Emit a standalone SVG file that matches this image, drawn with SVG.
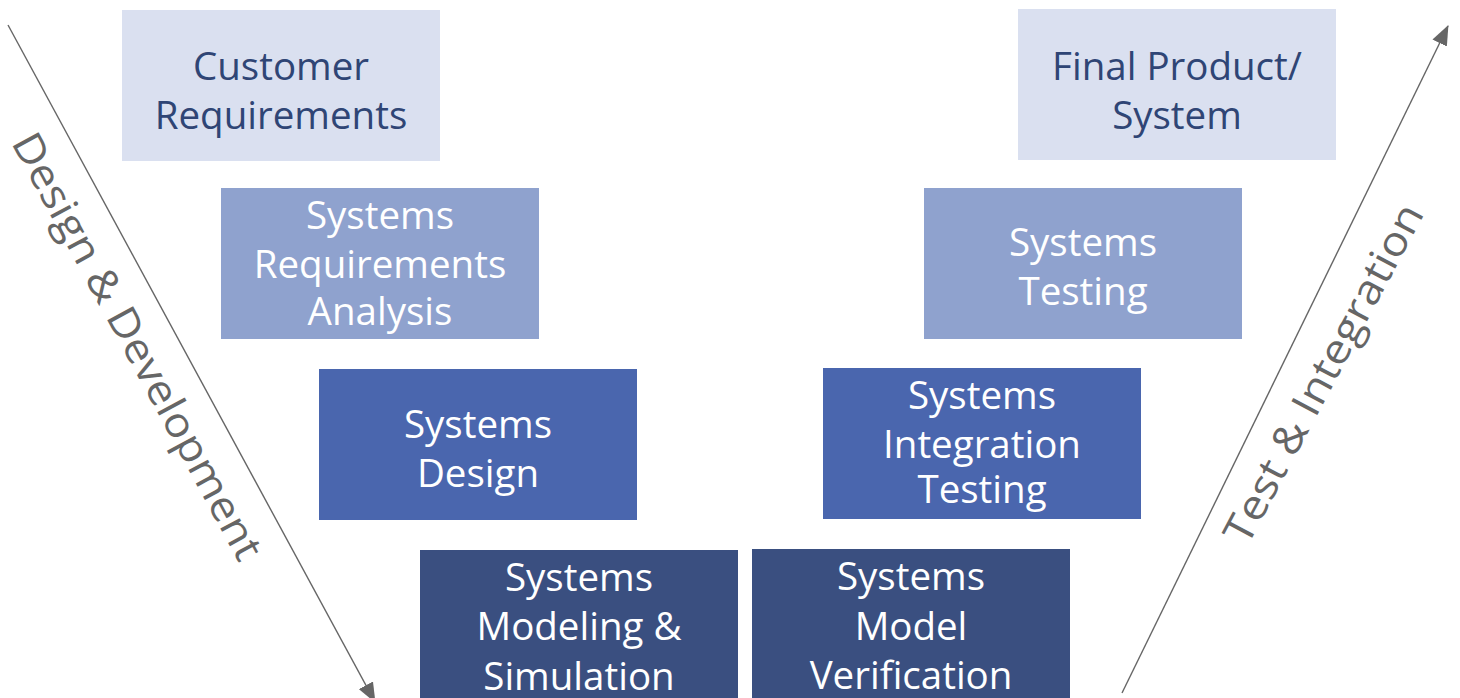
<svg xmlns="http://www.w3.org/2000/svg" width="1460" height="698" viewBox="0 0 1460 698">
<style>
.lbl{font-family:"Open Sans","Noto Sans","Liberation Sans",sans-serif;font-size:38.5px;text-anchor:middle}
.w{fill:#ffffff}
.d{fill:#2f4575}
.side{font-family:"Open Sans","Noto Sans","Liberation Sans",sans-serif;font-size:41px;fill:#666666;text-anchor:middle}
.c1{fill:#dae0f0}.c2{fill:#8fa2ce}.c3{fill:#4a66ae}.c4{fill:#3a4f80}
.arr{stroke:#666666;stroke-width:1.4;fill:none}
</style>
<defs>
<marker id="ah" viewBox="0 0 20 16" refX="19" refY="8" markerWidth="20" markerHeight="16" orient="auto" markerUnits="userSpaceOnUse">
<path d="M0,0 L20,8 L0,16 z" fill="#666666"/>
</marker>
</defs>
<rect width="1460" height="698" fill="#ffffff"/>
<g id="connectors">
<line class="arr" x1="8" y1="25" x2="375" y2="702" marker-end="url(#ah)"/>
<line class="arr" x1="1122" y1="693" x2="1448" y2="26" marker-end="url(#ah)"/>
</g>
<g id="label-design">
<text class="side" transform="translate(125,353) rotate(61.5)" textLength="479" lengthAdjust="spacingAndGlyphs">Design &amp; Development</text>
</g>
<g id="label-test">
<text class="side" transform="translate(1336,380) rotate(-62)" textLength="378" lengthAdjust="spacingAndGlyphs">Test &amp; Integration</text>
</g>
<g id="customer-requirements">
<rect class="c1" x="122" y="10" width="318" height="151"/>
<text class="lbl d" x="281" y="80">Customer</text>
<text class="lbl d" x="281" y="129">Requirements</text>
</g>
<g id="systems-requirements-analysis">
<rect class="c2" x="221" y="188" width="318" height="151"/>
<text class="lbl w" x="380" y="229">Systems</text>
<text class="lbl w" x="380" y="278">Requirements</text>
<text class="lbl w" x="380" y="325">Analysis</text>
</g>
<g id="systems-design">
<rect class="c3" x="319" y="369" width="318" height="151"/>
<text class="lbl w" x="478" y="438">Systems</text>
<text class="lbl w" x="478" y="487">Design</text>
</g>
<g id="systems-modeling-simulation">
<rect class="c4" x="420" y="550" width="318" height="151"/>
<text class="lbl w" x="579" y="591">Systems</text>
<text class="lbl w" x="579" y="640">Modeling &amp;</text>
<text class="lbl w" x="579" y="690">Simulation</text>
</g>
<g id="systems-model-verification">
<rect class="c4" x="752" y="549" width="318" height="151"/>
<text class="lbl w" x="911" y="590">Systems</text>
<text class="lbl w" x="911" y="640">Model</text>
<text class="lbl w" x="911" y="689">Verification</text>
</g>
<g id="systems-integration-testing">
<rect class="c3" x="823" y="368" width="318" height="151"/>
<text class="lbl w" x="982" y="409">Systems</text>
<text class="lbl w" x="982" y="458">Integration</text>
<text class="lbl w" x="982" y="503">Testing</text>
</g>
<g id="systems-testing">
<rect class="c2" x="924" y="188" width="318" height="151"/>
<text class="lbl w" x="1083" y="256">Systems</text>
<text class="lbl w" x="1083" y="305">Testing</text>
</g>
<g id="final-product-system">
<rect class="c1" x="1018" y="9" width="318" height="151"/>
<text class="lbl d" x="1177" y="80">Final Product/</text>
<text class="lbl d" x="1177" y="129">System</text>
</g>
</svg>
